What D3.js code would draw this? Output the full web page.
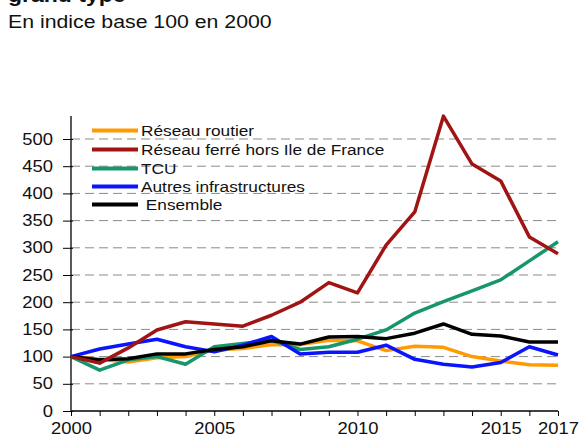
<!DOCTYPE html>
<html>
<head>
<meta charset="utf-8">
<script src="https://cdn.jsdelivr.net/npm/d3@7"></script>
<style>
  body { margin: 0; background: #fff; }
  text { font-family: "Liberation Sans", Arial, sans-serif; }
</style>
</head>
<body>
<div id="chart"></div>
<script>
const years = d3.range(2000, 2018);
const routier = [100, 95, 90, 98, 100, 112, 115, 122, 122, 130, 129, 111, 119, 117, 100, 92, 85, 84];
const ferre = [100, 88, 116, 149, 164, 160, 156, 176, 200, 236, 217, 305, 366, 542, 454, 423, 320, 289];
const tcu = [100, 75, 94, 100, 86, 118, 124, 130, 113, 118, 132, 149, 180, 201, 221, 241, 276, 311];
const autres = [100, 114, 123, 132, 118, 109, 121, 137, 105, 108, 108, 121, 95, 86, 81, 89, 118, 103];
const ensemble = [100, 94, 96, 105, 105, 113, 118, 129, 123, 136, 137, 133, 143, 160, 141, 138, 127, 127];
const seriesNames = ['Réseau routier', 'Réseau ferré hors Ile de France', 'TCU', 'Autres infrastructures', ' Ensemble'];
const seriesColors = ['#ff9a00', '#a01414', '#17966a', '#0a14ff', '#000000'];
const yTicks = d3.range(0, 501, 50);
const xLabels = [2000, 2005, 2010, 2015, 2017];

const W = 582, H = 437;
const SX = 1.15; // the source picture is stretched sideways
const svg = d3.select('#chart').append('svg').attr('width', W).attr('height', H);

const addText = (g, px, py, str, size, weight) =>
  g.append('text')
    .attr('transform', `translate(${px},${py}) scale(${SX},1)`)
    .style('font-size', `${size}px`)
    .style('font-weight', weight || 'normal')
    .style('white-space', 'pre')
    .attr('fill', '#111')
    .text(str);

addText(svg, 8, 2, 'grand type', 20, 'bold');
addText(svg, 8, 28, 'En indice base 100 en 2000', 18.5);

const x = d3.scaleLinear().domain([2000, 2017]).range([71, 558]);
const y = d3.scaleLinear().domain([0, 500]).range([411, 139]);

// grid
svg.append('g')
  .selectAll('line')
  .data(yTicks.filter((d) => d > 0))
  .join('line')
  .attr('x1', 71)
  .attr('x2', 560)
  .attr('y1', (d) => y(d))
  .attr('y2', (d) => y(d))
  .attr('stroke', '#8a8a8a')
  .attr('stroke-width', 1)
  .attr('stroke-dasharray', '9,5');

const yAxis = d3.axisLeft(y).tickValues(yTicks).tickSize(8).tickPadding(9);
const gy = svg.append('g').attr('transform', 'translate(71,0)').call(yAxis);
gy.select('.domain').attr('d', `M0,${y(0)}V116`).attr('stroke', '#000').attr('stroke-width', 1.3);
gy.selectAll('.tick line').attr('x1', 2).attr('x2', -8).attr('stroke', '#000');
gy.selectAll('text')
  .attr('x', -18 / SX)
  .attr('transform', `scale(${SX},1)`)
  .style('font-size', '16px')
  .attr('fill', '#111');

const xAxis = d3.axisBottom(x).tickValues(years).tickSize(5).tickFormat((d) => (xLabels.includes(d) ? d : ''));
const gx = svg.append('g').attr('transform', `translate(0,${y(0)})`).call(xAxis);
gx.select('.domain').attr('d', `M71,0H558`).attr('stroke', '#000').attr('stroke-width', 1.3);
gx.selectAll('.tick line').attr('stroke', '#000');
gx.selectAll('text')
  .attr('transform', `scale(${SX},1)`)
  .attr('y', 12)
  .style('font-size', '16px')
  .attr('fill', '#111')
  .attr('dy', '0.71em');

const allSeries = [routier, ferre, tcu, autres, ensemble];
const line = d3.line().x((d, i) => x(years[i])).y((d) => y(d));

const drawOrder = [0, 2, 3, 4, 1];
drawOrder.forEach((k) => {
  svg.append('path')
    .datum(allSeries[k])
    .attr('fill', 'none')
    .attr('stroke', seriesColors[k])
    .attr('stroke-width', 3.5)
    .attr('stroke-linejoin', 'round')
    .attr('d', line);
});

// legend
const legendY = [130.5, 149.5, 168.5, 186.5, 204.5];
const lg = svg.append('g');
seriesNames.forEach((name, i) => {
  lg.append('line')
    .attr('x1', 92).attr('x2', 138)
    .attr('y1', legendY[i]).attr('y2', legendY[i])
    .attr('stroke', seriesColors[i]).attr('stroke-width', 4);
  addText(lg, 141, legendY[i] + 5.5, name, 15);
});
</script>
</body>
</html>
